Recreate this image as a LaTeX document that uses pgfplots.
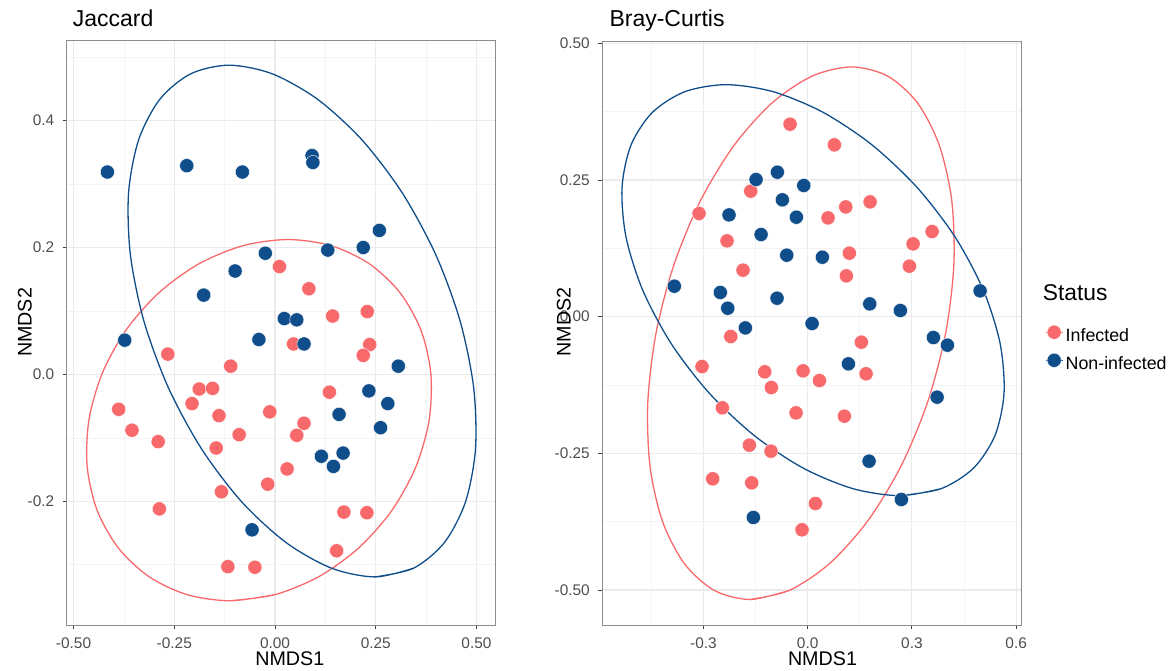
\documentclass[border=0pt]{standalone}
\usepackage{pgfplots}
\pgfplotsset{compat=1.18}
\usepackage{fontspec}
\setmainfont{Liberation Sans}
\definecolor{myred}{HTML}{F8696B}
\definecolor{myblue}{HTML}{104E8B}
\definecolor{gridmaj}{HTML}{EBEBEB}
\definecolor{gridmin}{HTML}{F4F4F4}
\definecolor{framec}{HTML}{8C8C8C}
\definecolor{ticklab}{HTML}{4D4D4D}
\pgfplotsset{
  ggp/.style={
    scale only axis,
    axis line style={draw=framec, line width=1bp},
    grid=both,
    major grid style={draw=gridmaj, line width=1.1bp},
    minor grid style={draw=gridmin, line width=0.6bp},
    tick align=outside,
    xtick pos=left, ytick pos=left,
    major tick length=4bp, minor tick length=0pt,
    every tick/.style={draw=black!75, line width=1bp},
    tick label style={font=\fontsize{15.4bp}{18bp}\selectfont, text=ticklab, inner sep=0pt},
    xticklabel style={anchor=north, yshift=-8.3bp},
    yticklabel style={anchor=east, xshift=-8.3bp},
    label style={font=\fontsize{19.7bp}{23bp}\selectfont, inner sep=0pt},
    title style={font=\fontsize{23bp}{27bp}\selectfont, inner sep=0pt, anchor=base west},
    xlabel={NMDS1}, ylabel={NMDS2},
  },
  redpts/.style={only marks, mark=*, color=myred, mark size=7.1bp,
    mark options={fill=myred, draw=white, line width=0.4bp}},
  bluepts/.style={only marks, mark=*, color=myblue, mark size=7.1bp,
    mark options={fill=myblue, draw=white, line width=0.4bp}},
  ell/.style={no marks, smooth, line width=1.3bp},
}
\begin{document}
\begin{tikzpicture}
\path[use as bounding box] (0bp,0bp) rectangle (1172bp,-671bp);
% ---------------- Jaccard ----------------
\begin{axis}[ggp,
  at={(66.7bp,-40.7bp)}, anchor=north west,
  width=428.3bp, height=584.3bp,
  xmin=-0.517, xmax=0.546, ymin=-0.395, ymax=0.526,
  xtick={-0.5,-0.25,0,0.25,0.5},
  xticklabels={-0.50,-0.25,0.00,0.25,0.50},
  ytick={-0.2,0,0.2,0.4},
  yticklabels={-0.2,0.0,0.2,0.4},
  minor xtick={-0.375,-0.125,0.125,0.375},
  minor ytick={-0.3,-0.1,0.1,0.3,0.5},
  title={Jaccard},
  title style={at={(axis description cs:0.014,1.0144)}},
  xlabel style={at={(axis description cs:0.5208,-0.0685)}, anchor=base},
  ylabel style={at={(axis description cs:-0.0817,0.5178)}, anchor=base},
]
\addplot[redpts] table {
x y
0.011 0.170
0.084 0.135
0.143 0.092
0.229 0.099
0.046 0.048
0.235 0.047
0.219 0.030
-0.266 0.032
-0.110 0.013
-0.188 -0.023
-0.155 -0.022
-0.388 -0.055
-0.206 -0.046
-0.139 -0.065
-0.013 -0.059
0.135 -0.028
0.072 -0.077
-0.355 -0.088
-0.290 -0.106
-0.089 -0.095
0.054 -0.096
-0.146 -0.116
0.030 -0.149
-0.018 -0.173
-0.133 -0.185
-0.287 -0.212
0.171 -0.217
0.228 -0.218
0.153 -0.278
-0.117 -0.303
-0.050 -0.304
};
\addplot[bluepts] table {
x y
-0.416 0.319
-0.219 0.329
-0.081 0.319
0.092 0.345
0.094 0.334
0.259 0.227
0.219 0.200
0.131 0.196
-0.024 0.191
-0.099 0.163
-0.177 0.125
0.023 0.088
0.054 0.086
-0.373 0.054
-0.040 0.055
0.072 0.048
0.306 0.013
0.233 -0.026
0.280 -0.046
0.159 -0.063
0.262 -0.084
0.169 -0.124
0.115 -0.129
0.145 -0.145
-0.057 -0.245
};
\addplot[ell, color=myred] coordinates {
(-0.1117,-0.3568) (0.0001,-0.3471) (0.1090,-0.3187) (0.2079,-0.2734)
(0.2899,-0.2145) (0.3495,-0.1458) (0.3825,-0.0721) (0.3867,0.0016)
(0.3619,0.0703) (0.3097,0.1292) (0.2338,0.1745) (0.1391,0.2029)
(0.0323,0.2126) (-0.0795,0.2029) (-0.1884,0.1745) (-0.2873,0.1292)
(-0.3693,0.0703) (-0.4289,0.0016) (-0.4619,-0.0721) (-0.4661,-0.1458)
(-0.4413,-0.2145) (-0.3891,-0.2734) (-0.3132,-0.3187) (-0.2185,-0.3471)
(-0.1117,-0.3568) (0.0001,-0.3471)
};
\addplot[ell, color=myblue] coordinates {
(0.2483,-0.3192) (0.3437,-0.3055) (0.4202,-0.2652) (0.4727,-0.2011)
(0.4975,-0.1176) (0.4929,-0.0203) (0.4594,0.0841) (0.3991,0.1885)
(0.3161,0.2858) (0.2163,0.3693) (0.1062,0.4334) (-0.0065,0.4737)
(-0.1143,0.4874) (-0.2097,0.4737) (-0.2862,0.4334) (-0.3387,0.3693)
(-0.3635,0.2858) (-0.3589,0.1885) (-0.3254,0.0841) (-0.2651,-0.0203)
(-0.1821,-0.1176) (-0.0823,-0.2011) (0.0278,-0.2652) (0.1405,-0.3055)
(0.2483,-0.3192) (0.3437,-0.3055)
};
\end{axis}
% ---------------- Bray-Curtis ----------------
\begin{axis}[ggp,
  at={(602.3bp,-41.7bp)}, anchor=north west,
  width=419.4bp, height=583.3bp,
  xmin=-0.591, xmax=0.616, ymin=-0.564, ymax=0.503,
  xtick={-0.3,0,0.3,0.6},
  xticklabels={-0.3,0.0,0.3,0.6},
  ytick={-0.5,-0.25,0,0.25,0.5},
  yticklabels={-0.50,-0.25,0.00,0.25,0.50},
  minor xtick={-0.45,-0.15,0.15,0.45},
  minor ytick={-0.375,-0.125,0.125,0.375},
  title={Bray-Curtis},
  title style={at={(axis description cs:0.0167,1.0161)}},
  xlabel style={at={(axis description cs:0.525,-0.0686)}, anchor=base},
  ylabel style={at={(axis description cs:-0.0753,0.5195)}, anchor=base},
  legend style={at={(axis description cs:1.0556,0.5145)}, anchor=north west,
    draw=none, fill=none, inner sep=0pt, row sep=7.5bp,
    font=\fontsize{17.8bp}{20bp}\selectfont,
    nodes={inner sep=0pt, text height=13bp, text depth=4bp},
    /tikz/every odd column/.append style={column sep=2.5bp}},
  legend cell align=left,
  legend image code/.code={%
    \draw[mark repeat=2,mark phase=2,#1] plot coordinates {(0bp,5bp) (8.3bp,5bp) (16.7bp,5bp)};},
]
\addplot[redpts, forget plot] table {
x y
-0.0507 0.3521
0.0769 0.3143
-0.1638 0.2296
-0.3126 0.1888
0.1796 0.2100
0.1097 0.2008
0.0587 0.1807
-0.2320 0.1387
0.3581 0.1558
0.3034 0.1332
0.1200 0.1162
-0.1860 0.0851
0.2928 0.0924
0.1114 0.0747
-0.2213 -0.0363
0.1546 -0.0466
-0.3040 -0.0912
-0.1235 -0.1009
-0.0132 -0.0991
0.0338 -0.1168
0.1681 -0.1045
-0.1045 -0.1296
-0.2455 -0.1667
-0.0334 -0.1759
0.1057 -0.1820
-0.1677 -0.2350
-0.1054 -0.2460
-0.2733 -0.2966
-0.1610 -0.3039
0.0223 -0.3417
-0.0161 -0.3899
};
\addplot[bluepts, forget plot] table {
x y
-0.1485 0.2509
-0.0872 0.2643
-0.0112 0.2400
-0.0728 0.2137
-0.2263 0.1862
-0.0325 0.1820
-0.1341 0.1503
-0.0602 0.1125
0.0423 0.1088
-0.3837 0.0558
-0.2513 0.0443
-0.2300 0.0155
-0.0881 0.0338
0.1787 0.0234
0.2668 0.0113
0.4963 0.0472
0.0127 -0.0125
-0.1793 -0.0205
0.3619 -0.0381
0.4022 -0.0521
0.1172 -0.0863
0.3725 -0.1472
0.1767 -0.2643
0.2698 -0.3344
-0.1562 -0.3673
};
\addplot[ell, color=myred, forget plot] coordinates {
(-0.1658,-0.5173) (-0.0529,-0.5007) (0.0622,-0.4520) (0.1717,-0.3746)
(0.2683,-0.2738) (0.3452,-0.1563) (0.3972,-0.0302) (0.4208,0.0959)
(0.4145,0.2134) (0.3785,0.3142) (0.3154,0.3916) (0.2295,0.4403)
(0.1266,0.4569) (0.0137,0.4403) (-0.1014,0.3916) (-0.2109,0.3142)
(-0.3075,0.2134) (-0.3844,0.0959) (-0.4364,-0.0302) (-0.4600,-0.1563)
(-0.4537,-0.2738) (-0.4177,-0.3746) (-0.3546,-0.4520) (-0.2687,-0.5007)
(-0.1658,-0.5173) (-0.0529,-0.5007)
};
\addplot[ell, color=myblue, forget plot] coordinates {
(0.2659,-0.3274) (0.3843,-0.3146) (0.4774,-0.2770) (0.5392,-0.2173)
(0.5652,-0.1395) (0.5538,-0.0488) (0.5057,0.0485) (0.4242,0.1458)
(0.3148,0.2365) (0.1850,0.3143) (0.0438,0.3740) (-0.0995,0.4116)
(-0.2349,0.4244) (-0.3533,0.4116) (-0.4464,0.3740) (-0.5082,0.3143)
(-0.5342,0.2365) (-0.5228,0.1458) (-0.4747,0.0485) (-0.3932,-0.0488)
(-0.2838,-0.1395) (-0.1540,-0.2173) (-0.0128,-0.2770) (0.1305,-0.3146)
(0.2659,-0.3274) (0.3843,-0.3146)
};
\addlegendimage{color=myred, line width=1.3bp, mark=*, mark size=7.1bp, mark options={fill=myred, draw=white, line width=0.4bp}}
\addlegendentry{Infected}
\addlegendimage{color=myblue, line width=1.3bp, mark=*, mark size=7.1bp, mark options={fill=myblue, draw=white, line width=0.4bp}}
\addlegendentry{Non-infected}
\end{axis}
\node[anchor=base west, inner sep=0pt, font=\fontsize{22.8bp}{26bp}\selectfont]
  at (1042.7bp,-300bp) {Status};
\end{tikzpicture}
\end{document}
